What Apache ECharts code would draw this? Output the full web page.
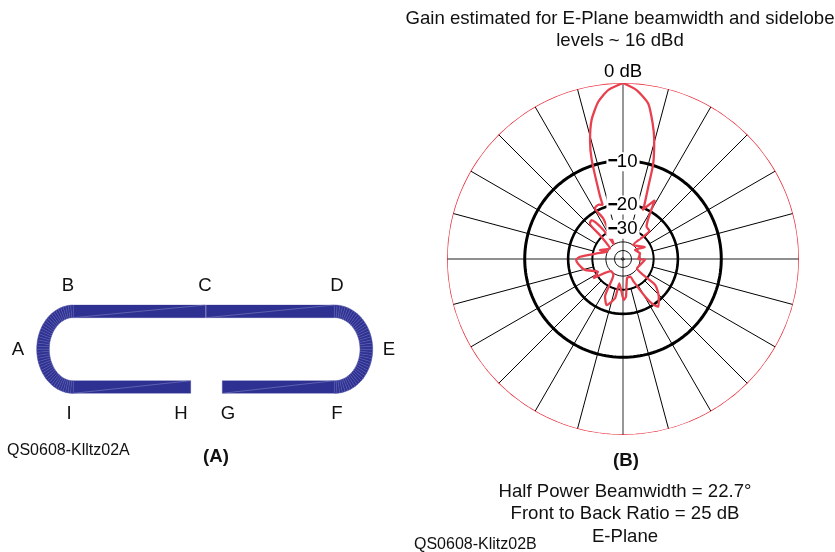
<!DOCTYPE html>
<html><head><meta charset="utf-8">
<style>html,body{margin:0;padding:0;background:#fff}#c{width:835px;height:552px}</style>
<script src="https://cdn.jsdelivr.net/npm/echarts@6/dist/echarts.min.js"></script>
</head><body><div id="c"></div>
<script>
// Pattern trace: bearing (deg clockwise from the top) and level (dB)
const patternAngle = [0,4.6,9.2,12.3,14.7,17.6,19.3,21.9,21.5,28.5,36,43,36,61,53,71.5,90,92,109,123.6,129,136.6,143.2,146.3,149.4,154.8,157.6,168,175.5,179,188.6,191.5,199.5,205.5,211,225,237,243,254,263.6,269,273,282,295,291,309,316,317,321,326,328,334,331,336,339.4,340,342.5,344.5,347.3,351,355,360];
const patternDb = [0,-0.65,-1.9,-4.05,-6.15,-9.7,-14.3,-19.65,-20.7,-16.6,-25.4,-26,-39.7,-33.5,-42.3,-39.1,-41.9,-35.7,-39.1,-40.3,-24.8,-20.9,-18.6,-19.9,-23.9,-33.5,-38.2,-37.8,-26.4,-25,-33.8,-25.4,-22,-24.7,-38.5,-40.1,-27.5,-31.5,-25.6,-23.4,-22.7,-24.2,-32.2,-39.8,-33.7,-40.3,-28.7,-22.1,-21.6,-27.7,-40.1,-23.4,-19,-18.6,-19.1,-16.3,-9,-6.1,-3.6,-1.75,-0.64,0];
const ringDb = [0,-10,-20,-30,-40,-52,-81];
const ringWidth = [1.5,3,2.6,2,1,1,1];
const ringColor = ['#e8202f','#000','#000','#000','#111','#111','#111'];
const spokeAngles = [15,30,45,60,75,105,120,135,150,165,195,210,225,240,255,285,300,315,330,345];
const crossAngles = [0,90,180,270];
const spokeInnerDb = -30;
const tickDb = [0,-10,-20,-30];
const tickText = ['0 dB','10','20','30'];
// Loop element (A): straight runs [x0,x1,yTop,yBottom]
const runs = [[73.3,205.5,305,317.7],[206.2,334.3,305,317.7],[73.3,190.7,380.7,393.3],[222.3,334.3,380.7,393.3]];
// Bends: [cx,cy,rxOuter,ryOuter,rxInner,ryInner,startDeg,endDeg]
const bends = [[73.3,349.2,36.6,44.2,24,31.6,90,270],[334.3,349.2,38.4,44.2,25.7,31.6,-90,90]];
const bendCells = 44;
const loopLabels = [['A',18,350],['B',68,286],['C',205,286],['D',337,286],['E',389,350],['F',337,414],['G',228,414],['H',181,414],['I',69,414]];

const rad = db => Math.pow(0.89, -db/2);
const FONT = '"Liberation Sans", Arial, sans-serif';
const cells = [];
runs.forEach(r => cells.push({poly:[[r[0],r[2]],[r[1],r[2]],[r[1],r[3]],[r[0],r[3]]], diag:[[r[0],r[3]],[r[1],r[2]]]}));
bends.forEach(b => {
  for (let i=0;i<bendCells;i++){
    const a0=(b[6]+(b[7]-b[6])*i/bendCells)*Math.PI/180, a1=(b[6]+(b[7]-b[6])*(i+1)/bendCells)*Math.PI/180;
    const p=(rx,ry,a)=>[b[0]+rx*Math.cos(a), b[1]-ry*Math.sin(a)];
    cells.push({poly:[p(b[2],b[3],a0),p(b[2],b[3],a1),p(b[4],b[5],a1),p(b[4],b[5],a0)]});
  }
});
const loopSeries = {
  type:'custom', coordinateSystem:'cartesian2d', xAxisIndex:0, yAxisIndex:0, silent:true,
  data: cells.map((c,i)=>[i]),
  renderItem:(params,api)=>{
    const c=cells[api.value(0)];
    const kids=[{type:'polygon',shape:{points:c.poly.map(p=>api.coord(p))},style:{fill:'#2e3192',stroke:c.diag?'#2e3192':'#5558ab',lineWidth:c.diag?0.3:0.5}}];
    if(c.diag){const a=api.coord(c.diag[0]),b=api.coord(c.diag[1]);
      kids.push({type:'line',shape:{x1:a[0],y1:a[1],x2:b[0],y2:b[1]},style:{stroke:'#7d7fc0',lineWidth:0.6}});
    }
    return {type:'group',children:kids};
  }
};
const line = (data,color,width,z)=>({type:'line',coordinateSystem:'polar',polarIndex:0,data,symbol:'none',silent:true,z,
  lineStyle:{color,width},itemStyle:{color},connectNulls:false});
const ringAngles=[]; for(let a=0;a<=360;a+=2) ringAngles.push(a);
const series=[loopSeries];
spokeAngles.forEach(a=>series.push(line([[rad(spokeInnerDb),a],[1,a]],'#000',1,2)));
crossAngles.forEach(a=>series.push(line([[0,a],[1,a]],'#6a6a6a',1.4,2)));
ringDb.forEach((d,i)=>series.push(line(ringAngles.map(a=>[rad(d),a]),ringColor[i],ringWidth[i],3)));
series.push(Object.assign(line(patternAngle.map((a,i)=>[rad(patternDb[i]),a]),'#e8404f',2.3,5),{z:5,smooth:0.2}));
series.push({type:'scatter',coordinateSystem:'polar',polarIndex:0,symbolSize:0,silent:true,z:6,itemStyle:{opacity:1},
  data:tickDb.map((d,i)=>({value:[rad(d),0],itemStyle:{opacity:1},
    label:{show:true,position:'inside',formatter:i?'{d|━}'+tickText[i]:tickText[i],
      offset:i?[0,1]:[0,-11],opacity:1,
      backgroundColor:i?'#fff':'transparent',padding:i?[0,2,0,2]:0,
      fontFamily:FONT,fontSize:18.6,color:'#000',textBorderWidth:0,
      rich:{d:{fontSize:14,color:'#000',fontFamily:'"DejaVu Sans"',fontWeight:'bold',textBorderWidth:0}}}}))});

const txt=(t,x,y,size,align,weight)=>({type:'text',x,y,silent:true,z:20,style:{text:t,fill:'#111',font:(weight||'normal')+' '+size+'px '+FONT,textAlign:align||'center',textVerticalAlign:'middle'}});
const texts=[
  txt('Gain estimated for E-Plane beamwidth and sidelobe',620,19,18.6),
  txt('levels ~ 16 dBd',620,41,18.6),
  txt('(A)',216,457,18.6,'center','bold'),
  txt('(B)',626,461,18.6,'center','bold'),
  txt('Half Power Beamwidth = 22.7°',625,491.5,18.6),
  txt('Front to Back Ratio = 25 dB',625,514,18.6),
  txt('E-Plane',625,536.5,18.6),
  txt('QS0608-Kllltz02A'.replace('Klll','Kll'),7,451,16,'left'),
  txt('QS0608-Klitz02B',414,545,16,'left')
].concat(loopLabels.map(l=>txt(l[0],l[1],l[2],18.6)));

const chart=echarts.init(document.getElementById('c'),null,{renderer:'canvas'});
chart.setOption({
  animation:false,backgroundColor:'#fff',
  grid:{left:0,top:0,width:835,height:552,containLabel:false},
  xAxis:{type:'value',min:0,max:835,show:false},
  yAxis:{type:'value',min:0,max:552,inverse:true,show:false},
  polar:{center:[623,259],radius:176},
  angleAxis:{type:'value',min:0,max:360,startAngle:90,clockwise:true,show:false},
  radiusAxis:{type:'value',min:0,max:1,show:false},
  graphic:{elements:texts},
  series
});
</script></body></html>
